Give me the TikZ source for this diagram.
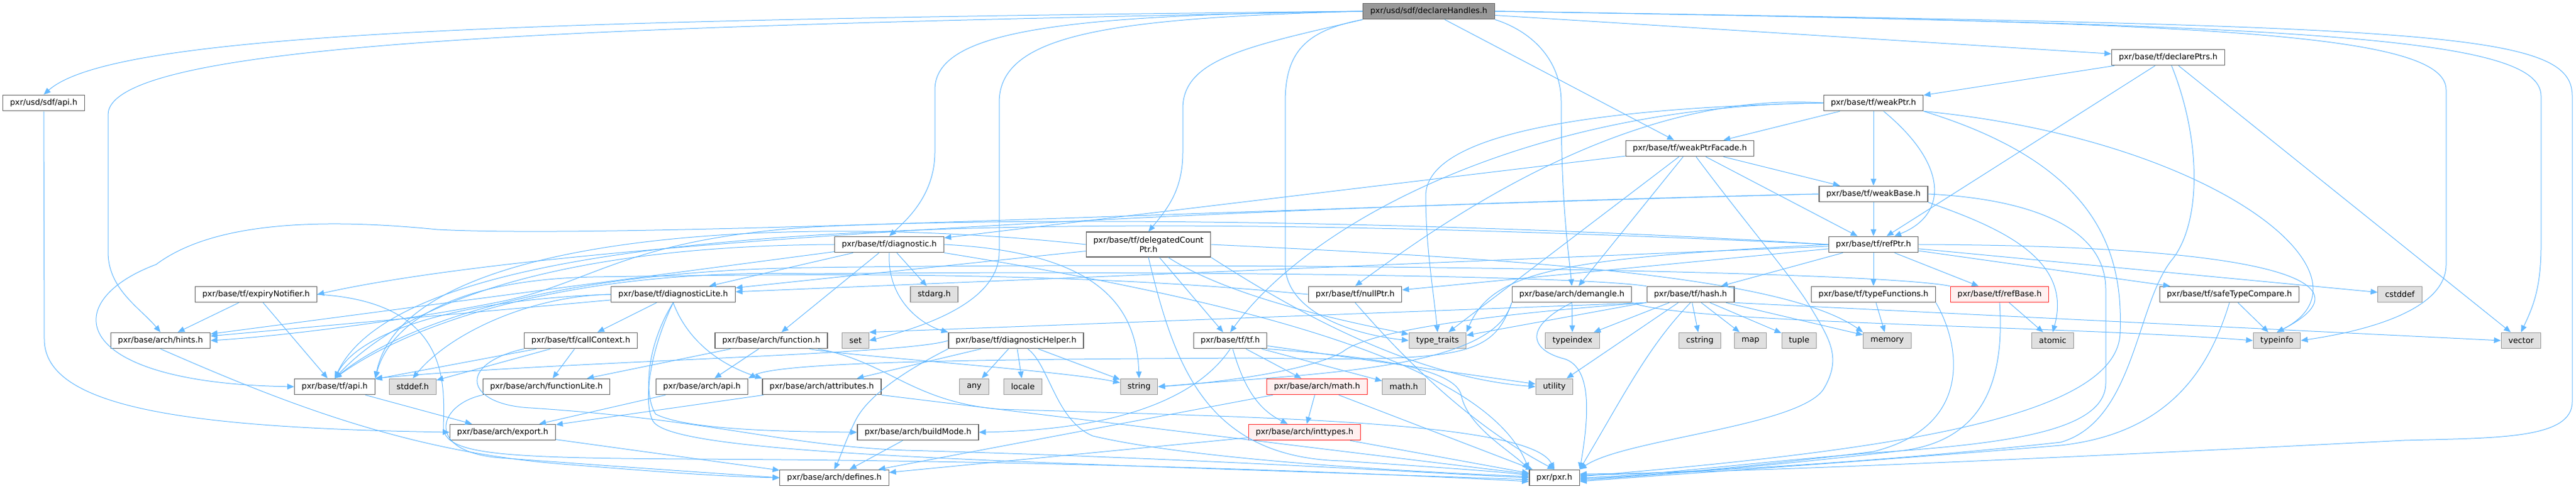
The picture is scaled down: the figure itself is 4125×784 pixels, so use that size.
\documentclass[tikz,border=0pt]{standalone}
\usepackage{fontspec}
\setmainfont{DejaVu Sans}
\usetikzlibrary{arrows.meta}
\definecolor{incblue}{RGB}{99,184,255}
\definecolor{hdrline}{RGB}{102,102,102}
\definecolor{sysfill}{RGB}{224,224,224}
\definecolor{sysline}{RGB}{153,153,153}
\definecolor{rootfill}{RGB}{153,153,153}
\definecolor{cutfill}{RGB}{255,240,240}
\definecolor{cutline}{RGB}{255,40,40}
\tikzstyle{hdr}=[rectangle, draw=hdrline, fill=white, line width=1.2pt, inner xsep=11.5pt, inner ysep=0pt, minimum height=25.5pt, font=\fontsize{12.8}{15}\selectfont]
\tikzstyle{syshdr}=[hdr, draw=sysline, fill=sysfill]
\tikzstyle{roothdr}=[hdr, draw=hdrline, fill=rootfill]
\tikzstyle{cuthdr}=[hdr, draw=cutline, fill=cutfill]
\tikzstyle{inc}=[draw=incblue, line width=1pt, -{Triangle[length=11pt, width=9pt]}]

\begin{document}
\begin{tikzpicture}[x=1pt, y=1pt]
    \useasboundingbox (0,0) rectangle (4125,784);
    \node[roothdr] (root) at (2288,766) {pxr/usd/sdf/declareHandles.h};
    \node[hdr] (sdfapi) at (70,619) {pxr/usd/sdf/api.h};
    \node[hdr] (declptrs) at (3472,692) {pxr/base/tf/declarePtrs.h};
    \node[hdr] (weakptr) at (3000,619) {pxr/base/tf/weakPtr.h};
    \node[hdr] (facade) at (2706,546) {pxr/base/tf/weakPtrFacade.h};
    \node[hdr] (weakbase) at (3000,473) {pxr/base/tf/weakBase.h};
    \node[hdr] (diag) at (1424,392) {pxr/base/tf/diagnostic.h};
    \node[hdr, align=center, minimum height=40pt] (delegptr) at (1839,392) {pxr/base/tf/delegatedCount\\Ptr.h};
    \node[hdr] (refptr) at (3000,392) {pxr/base/tf/refPtr.h};
    \node[hdr] (expiry) at (410,312) {pxr/base/tf/expiryNotifier.h};
    \node[hdr] (diaglite) at (1078,312) {pxr/base/tf/diagnosticLite.h};
    \node[syshdr] (stdarg) at (1496,312) {stdarg.h};
    \node[hdr] (nullptr) at (2170,312) {pxr/base/tf/nullPtr.h};
    \node[hdr] (demangle) at (2517,312) {pxr/base/arch/demangle.h};
    \node[hdr] (hash) at (2707,312) {pxr/base/tf/hash.h};
    \node[hdr] (typefuncs) at (3000,312) {pxr/base/tf/typeFunctions.h};
    \node[cuthdr] (refbase) at (3202,312) {pxr/base/tf/refBase.h};
    \node[hdr] (safecmp) at (3570,312) {pxr/base/tf/safeTypeCompare.h};
    \node[syshdr] (cstddef) at (3843,312) {cstddef};
    \node[hdr] (hints) at (257,238) {pxr/base/arch/hints.h};
    \node[hdr] (callctx) at (930,238) {pxr/base/tf/callContext.h};
    \node[hdr] (function) at (1235,238) {pxr/base/arch/function.h};
    \node[syshdr] (set) at (1370,238) {set};
    \node[hdr] (diaghelper) at (1627,238) {pxr/base/tf/diagnosticHelper.h};
    \node[hdr] (tf) at (1970,238) {pxr/base/tf/tf.h};
    \node[syshdr] (typetraits) at (2302,238) {type\_traits};
    \node[syshdr] (typeindex) at (2518,238) {typeindex};
    \node[syshdr] (cstring) at (2722,238) {cstring};
    \node[syshdr] (map) at (2803,238) {map};
    \node[syshdr] (tuple) at (2881,238) {tuple};
    \node[syshdr] (memory) at (3022,238) {memory};
    \node[syshdr] (atomic) at (3287,238) {atomic};
    \node[syshdr] (typeinfo) at (3646,238) {typeinfo};
    \node[syshdr] (vector) at (4037,238) {vector};
    \node[hdr] (tfapi) at (536,164) {pxr/base/tf/api.h};
    \node[syshdr] (stddef) at (661,164) {stddef.h};
    \node[hdr] (funclite) at (875,164) {pxr/base/arch/functionLite.h};
    \node[hdr] (archapi) at (1124,164) {pxr/base/arch/api.h};
    \node[hdr] (attrs) at (1316,164) {pxr/base/arch/attributes.h};
    \node[syshdr] (any) at (1560,164) {any};
    \node[syshdr] (locale) at (1638,164) {locale};
    \node[syshdr] (string) at (1824,164) {string};
    \node[cuthdr] (archmath) at (2109,164) {pxr/base/arch/math.h};
    \node[syshdr] (mathh) at (2248,164) {math.h};
    \node[syshdr] (utility) at (2489,164) {utility};
    \node[hdr] (export) at (805,91) {pxr/base/arch/export.h};
    \node[hdr] (buildmode) at (1470,91) {pxr/base/arch/buildMode.h};
    \node[cuthdr] (inttypes) at (2089,91) {pxr/base/arch/inttypes.h};
    \node[hdr] (defines) at (1336,18) {pxr/base/arch/defines.h};
    \node[hdr] (pxr) at (2489,18) {pxr/pxr.h};

    \draw[inc] (root.west) .. controls (800,752) and (180,730) .. (sdfapi.north);
    \draw[inc] (root.west) .. controls (1000,742) and (173,722) .. (173,600) -- (173,380) .. controls (173,320) and (225,290) .. (hints.north);
    \draw[inc] (root.west) .. controls (1700,760) and (1497,735) .. (1497,640) -- (1497,540) .. controls (1497,470) and (1450,430) .. (diag.north);
    \draw[inc] (root.west) .. controls (1780,755) and (1600,730) .. (1600,620) -- (1600,380) .. controls (1600,300) and (1480,260) .. (set.east);
    \draw[inc] (root.south west) .. controls (2000,710) and (1894,690) .. (1894,610) -- (1894,540) .. controls (1894,480) and (1870,450) .. (delegptr.north);
    \draw[inc] (root.south west) .. controls (2090,735) and (2058,700) .. (2058,620) -- (2058,360) .. controls (2058,290) and (2150,250) .. (typetraits.west);
    \draw[inc] (root.south east) .. controls (2450,735) and (2500,690) .. (2500,620) .. controls (2500,450) and (2512,380) .. (demangle.north);
    \draw[inc] (root) -- (facade);
    \draw[inc] (root) -- (declptrs);
    \draw[inc] (root.east) .. controls (3500,748) and (3917,735) .. (3917,640) -- (3917,360) .. controls (3917,290) and (3800,255) .. (typeinfo.east);
    \draw[inc] (root.east) .. controls (3700,745) and (4069,725) .. (4069,630) -- (4069,390) .. controls (4069,320) and (4055,290) .. (vector.north);
    \draw[inc] (root.east) .. controls (3900,742) and (4119,735) .. (4119,630) -- (4119,140) .. controls (4119,80) and (4000,82) .. (3850,78) .. controls (3400,55) and (2800,26) .. ([yshift=6pt]pxr.east);

    \draw[inc] (sdfapi) -- (71,240) .. controls (71,130) and (300,98) .. (export.west);

    \draw[inc] (declptrs) -- (weakptr);
    \draw[inc] (declptrs) -- (refptr);
    \draw[inc] (declptrs) -- (vector);
    \draw[inc] (declptrs) .. controls (3525,560) and (3525,430) .. (3480,370) .. controls (3420,300) and (3420,110) .. (3300,75) .. controls (3000,42) and (2700,26) .. ([yshift=4pt]pxr.east);

    \draw[inc] (weakptr.west) .. controls (2600,640) and (2300,420) .. (nullptr.north);
    \draw[inc] (weakptr.west) .. controls (2450,615) and (2100,430) .. (tf.north);
    \draw[inc] (weakptr.west) .. controls (2500,610) and (2283,560) .. (2283,470) .. controls (2283,390) and (2295,320) .. (typetraits.north);
    \draw[inc] (weakptr) -- (facade);
    \draw[inc] (weakptr) -- (weakbase);
    \draw[inc] (weakptr) .. controls (3120,520) and (3120,440) .. (refptr);
    \draw[inc] (weakptr.south east) .. controls (3550,560) and (3820,340) .. (typeinfo.north);
    \draw[inc] (weakptr.south east) .. controls (3360,520) and (3400,380) .. (3395,250) .. controls (3390,110) and (3000,60) .. ([yshift=2pt]pxr.east);

    \draw[inc] (facade) -- (diag);
    \draw[inc] (facade) -- (demangle);
    \draw[inc] (facade) -- (weakbase);
    \draw[inc] (facade) -- (refptr);
    \draw[inc] (facade) -- (typetraits);
    \draw[inc] (facade) .. controls (2800,420) and (2870,340) .. (2900,290) .. controls (2930,240) and (2950,210) .. (2920,160) .. controls (2880,100) and (2600,80) .. (pxr.north east);

    \draw[inc] (weakbase.west) .. controls (2000,452) and (900,400) .. (expiry.east);
    \draw[inc] (weakbase.west) .. controls (2000,450) and (1000,400) .. (700,416) .. controls (480,438) and (330,420) .. (250,360) .. controls (90,300) and (110,170) .. (tfapi.west);
    \draw[inc] (weakbase) -- (refptr);
    \draw[inc] (weakbase.south east) .. controls (3200,420) and (3320,370) .. (atomic.north);
    \draw[inc] (weakbase.east) .. controls (3250,465) and (3372,420) .. (3372,320) -- (3372,170) .. controls (3372,90) and (3200,72) .. (3000,58) .. controls (2800,42) and (2650,22) .. (pxr.east);

    \draw[inc] (refptr) -- (diaglite);
    \draw[inc] (refptr) -- (nullptr);
    \draw[inc] (refptr) -- (hash);
    \draw[inc] (refptr) -- (typefuncs);
    \draw[inc] (refptr) -- (refbase);
    \draw[inc] (refptr) -- (safecmp);
    \draw[inc] (refptr) -- (cstddef);
    \draw[inc] (refptr.east) .. controls (3650,390) and (3800,330) .. (typeinfo.north);
    \draw[inc] (refptr.west) .. controls (2500,370) and (2390,350) .. (typetraits.north east);
    \draw[inc] (refptr.west) .. controls (1500,460) and (650,420) .. (tfapi.north);
    \draw[inc] (refptr.west) .. controls (2400,425) and (1700,440) .. (1300,420) .. controls (1000,400) and (950,330) .. (800,300) .. controls (650,270) and (450,245) .. (hints.east);

    \draw[inc] (diag) -- (diaglite);
    \draw[inc] (diag.west) .. controls (900,390) and (650,300) .. (tfapi.north);
    \draw[inc] (diag) -- (hints);
    \draw[inc] (diag) -- (function);
    \draw[inc] (diag) -- (stdarg);
    \draw[inc] (diag.south) .. controls (1420,300) and (1480,262) .. (diaghelper.north west);
    \draw[inc] (diag.east) .. controls (1750,380) and (1820,300) .. (string.north);
    \draw[inc] (diag.south east) .. controls (2000,300) and (2380,200) .. (pxr.north west);

    \draw[inc] (delegptr.west) .. controls (1300,440) and (650,420) .. (tfapi.north east);
    \draw[inc] (delegptr) -- (diaglite);
    \draw[inc] (delegptr) -- (tf);
    \draw[inc] (delegptr.east) .. controls (2400,370) and (2850,345) .. (memory.north west);
    \draw[inc] (delegptr) .. controls (1980,300) and (2200,260) .. (typetraits);
    \draw[inc] (delegptr.south east) .. controls (2050,300) and (2250,180) .. (utility.west);
    \draw[inc] (delegptr.south) .. controls (1880,200) and (1930,50) .. (2150,45) .. controls (2300,35) and (2400,28) .. ([yshift=4pt]pxr.west);

    \draw[inc] (expiry) -- (hints);
    \draw[inc] (expiry) -- (tfapi);
    \draw[inc] (expiry.east) .. controls (720,300) and (712,170) .. (710,100) .. controls (710,55) and (800,50) .. (1100,48) .. controls (1800,45) and (2300,20) .. ([yshift=-6pt]pxr.west);

    \draw[inc] (diaglite.west) .. controls (760,305) and (580,260) .. (tfapi.north);
    \draw[inc] (diaglite) -- (callctx);
    \draw[inc] (diaglite.south) .. controls (1100,240) and (1150,200) .. (attrs.north west);
    \draw[inc] (diaglite.south) .. controls (1035,230) and (1030,150) .. (1050,120) .. controls (1100,95) and (1250,92) .. (buildmode.west);
    \draw[inc] (diaglite) -- (hints);
    \draw[inc] (diaglite.west) .. controls (850,310) and (720,250) .. (stddef.north);
    \draw[inc] (diaglite.south) .. controls (1040,220) and (1030,140) .. (1045,110) .. controls (1070,55) and (1600,45) .. ([yshift=-3pt]pxr.west);

    \draw[inc] (callctx) -- (tfapi);
    \draw[inc] (callctx) -- (funclite);
    \draw[inc] (callctx) -- (stddef);
    \draw[inc] (callctx.south west) .. controls (730,200) and (745,135) .. (850,130) .. controls (1150,110) and (1250,70) .. (1450,62) .. controls (1900,50) and (2300,25) .. (pxr.west);

    \draw[inc] (function) -- (funclite);
    \draw[inc] (function) -- (archapi);
    \draw[inc] (function) .. controls (1340,215) and (1700,190) .. (string);
    \draw[inc] (function) .. controls (1420,205) and (1460,140) .. (1600,128) .. controls (2000,115) and (2450,110) .. (pxr.north);

    \draw[inc] (diaghelper.west) .. controls (1450,215) and (900,205) .. (tfapi.north east);
    \draw[inc] (diaghelper) -- (attrs);
    \draw[inc] (diaghelper) -- (any);
    \draw[inc] (diaghelper) -- (locale);
    \draw[inc] (diaghelper) -- (string);
    \draw[inc] (diaghelper.south west) .. controls (1450,190) and (1390,150) .. (1370,110) .. controls (1355,80) and (1345,50) .. (defines.north);
    \draw[inc] (diaghelper) .. controls (1680,200) and (1690,110) .. (1750,85) .. controls (1900,50) and (2200,30) .. ([yshift=2pt]pxr.west);

    \draw[inc] (tf.south) .. controls (1920,150) and (1800,95) .. (buildmode.east);
    \draw[inc] (tf) -- (archmath);
    \draw[inc] (tf) .. controls (1990,170) and (2010,130) .. (inttypes);
    \draw[inc] (tf) -- (mathh);
    \draw[inc] (tf) -- (utility);
    \draw[inc] (tf.south east) .. controls (2150,215) and (2330,200) .. (2340,150) .. controls (2350,100) and (2420,60) .. (pxr.north west);

    \draw[inc] (nullptr.west) .. controls (1700,350) and (1300,345) .. (950,340) .. controls (700,335) and (620,250) .. (tfapi.north east);
    \draw[inc] (nullptr.south) .. controls (2230,230) and (2340,110) .. (pxr.north);

    \draw[inc] (demangle.south west) .. controls (2390,210) and (2340,205) .. (2000,210) .. controls (1600,208) and (1250,205) .. (archapi.north east);
    \draw[inc] (demangle.south west) .. controls (2390,190) and (2100,185) .. (string.east);
    \draw[inc] (demangle) -- (typeindex);
    \draw[inc] (demangle.south east) .. controls (2700,265) and (3300,262) .. (typeinfo.west);
    \draw[inc] (demangle.south) .. controls (2440,260) and (2450,225) .. (2500,210) .. controls (2550,200) and (2545,120) .. (pxr.north east);

    \draw[inc] (hash.north west) .. controls (2500,345) and (1700,350) .. (1300,345) .. controls (900,355) and (650,260) .. (tfapi.north);
    \draw[inc] (hash) -- (cstring);
    \draw[inc] (hash) -- (map);
    \draw[inc] (hash) -- (tuple);
    \draw[inc] (hash) -- (memory);
    \draw[inc] (hash.south west) -- (set.north east);
    \draw[inc] (hash.south west) .. controls (2450,285) and (2200,260) .. (2150,220) .. controls (2100,190) and (1950,170) .. (string.east);
    \draw[inc] (hash) -- (typeindex);
    \draw[inc] (hash) -- (typetraits);
    \draw[inc] (hash) -- (utility);
    \draw[inc] (hash.south east) -- (vector.west);
    \draw[inc] (hash.south) .. controls (2640,230) and (2600,150) .. (pxr.north east);

    \draw[inc] (typefuncs) -- (memory);
    \draw[inc] (typefuncs.south east) .. controls (3140,230) and (3160,100) .. (3000,60) .. controls (2800,35) and (2650,22) .. ([yshift=-2pt]pxr.east);

    \draw[inc] (refbase) -- (atomic);
    \draw[inc] (refbase.south) .. controls (3210,180) and (3180,80) .. (3050,62) .. controls (2850,38) and (2650,22) .. ([yshift=-4pt]pxr.east);
    \draw[inc] (refbase.north west) .. controls (3000,350) and (2000,365) .. (1300,355) .. controls (900,350) and (650,270) .. (tfapi.north);

    \draw[inc] (safecmp) -- (typeinfo);
    \draw[inc] (safecmp.south) .. controls (3540,200) and (3480,90) .. (3300,70) .. controls (3000,45) and (2700,25) .. ([yshift=-6pt]pxr.east);

    \draw[inc] (archmath) -- (inttypes);
    \draw[inc] (archmath) -- (defines);
    \draw[inc] (archmath) -- (pxr);
    \draw[inc] (inttypes) -- (defines);
    \draw[inc] (inttypes) -- (pxr);
    \draw[inc] (export) -- (defines);
    \draw[inc] (buildmode) -- (defines);
    \draw[inc] (attrs) -- (export);
    \draw[inc] (attrs.south east) -- ([yshift=6pt]pxr.west);
    \draw[inc] (archapi) -- (export);
    \draw[inc] (funclite.south west) .. controls (700,135) and (680,60) .. (800,50) .. controls (1000,35) and (1150,25) .. (defines.west);
    \draw[inc] (hints.south) .. controls (450,140) and (650,60) .. (900,40) .. controls (1050,28) and (1150,20) .. (defines.west);
    \draw[inc] (tfapi) -- (export);
\end{tikzpicture}
\end{document}
